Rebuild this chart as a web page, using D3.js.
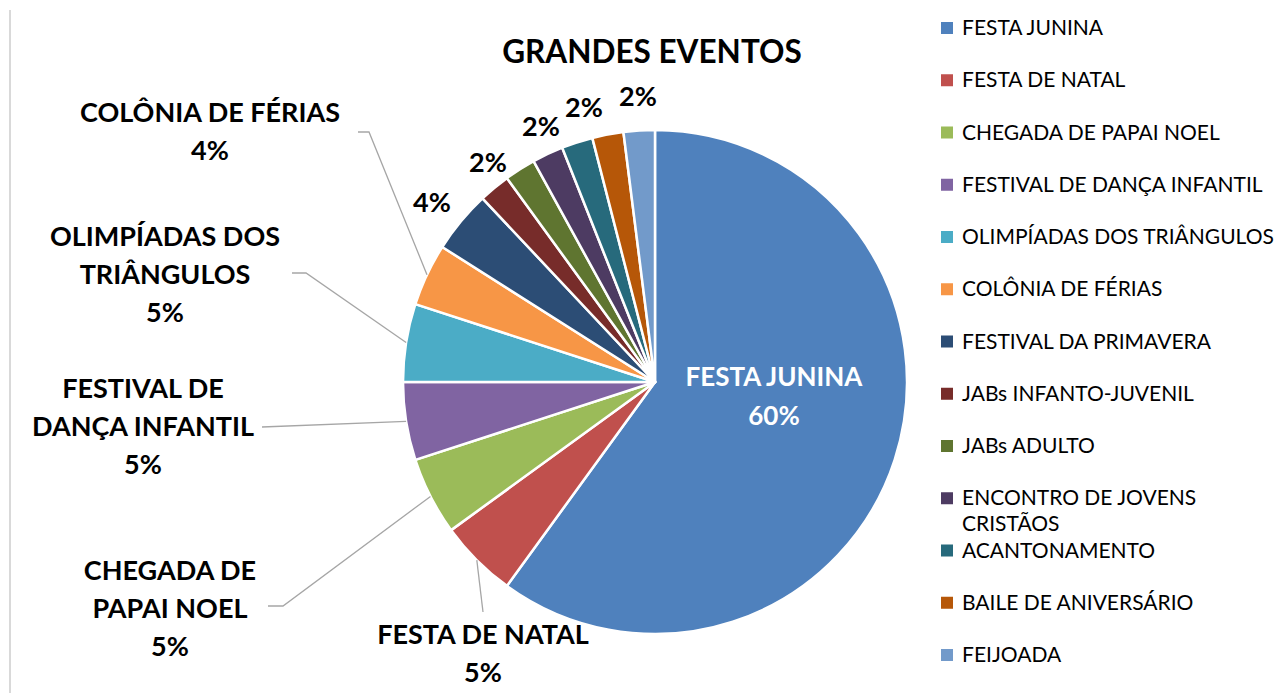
<!DOCTYPE html>
<html lang="pt">
<head>
<meta charset="UTF-8">
<script src="https://d3js.org/d3.v7.min.js"></script>
<style>
  body { margin: 0; background: #fff; }
  svg { display: block; font-family: Lato, "Open Sans", sans-serif; }
</style>
</head>
<body>
<div id="chart"></div>
<script>
// data
const events = ["FESTA JUNINA", "FESTA DE NATAL", "CHEGADA DE PAPAI NOEL", "FESTIVAL DE DANÇA INFANTIL",
  "OLIMPÍADAS DOS TRIÂNGULOS", "COLÔNIA DE FÉRIAS", "FESTIVAL DA PRIMAVERA", "JABs INFANTO-JUVENIL",
  "JABs ADULTO", "ENCONTRO DE JOVENS CRISTÃOS", "ACANTONAMENTO", "BAILE DE ANIVERSÁRIO", "FEIJOADA"];
const percents = [60, 5, 5, 5, 5, 4, 4, 2, 2, 2, 2, 2, 2];
const colors = ["#4f81bd", "#c0504d", "#9bbb59", "#8064a2", "#4bacc6", "#f79646", "#2c4d75",
  "#772c2a", "#5f7530", "#4d3b62", "#276a7c", "#b65708", "#729aca"];
const legendLines = [["FESTA JUNINA"], ["FESTA DE NATAL"], ["CHEGADA DE PAPAI NOEL"], ["FESTIVAL DE DANÇA INFANTIL"],
  ["OLIMPÍADAS DOS TRIÂNGULOS"], ["COLÔNIA DE FÉRIAS"], ["FESTIVAL DA PRIMAVERA"], ["JABs INFANTO-JUVENIL"],
  ["JABs ADULTO"], ["ENCONTRO DE JOVENS", "CRISTÃOS"], ["ACANTONAMENTO"], ["BAILE DE ANIVERSÁRIO"], ["FEIJOADA"]];

// label layout (outside labels with leader lines)
const outLabels = [
  { i: 5, x: 210, y: 122, lines: ["COLÔNIA DE FÉRIAS"], leader: [[358, 132], [369, 132]] },
  { i: 4, x: 165, y: 246, lines: ["OLIMPÍADAS DOS", "TRIÂNGULOS"], leader: [[292, 273], [306, 273]] },
  { i: 3, x: 143, y: 398, lines: ["FESTIVAL DE", "DANÇA INFANTIL"], leader: [[262, 427]] },
  { i: 2, x: 170, y: 580, lines: ["CHEGADA DE", "PAPAI NOEL"], leader: [[268, 606], [283, 606]] },
  { i: 1, x: 483, y: 644, lines: ["FESTA DE NATAL"], leader: [[483, 612]] }
];
const smallLabels = [
  { i: 6, x: 432, y: 212 }, { i: 7, x: 488, y: 172 }, { i: 8, x: 541, y: 136 },
  { i: 10, x: 584, y: 117 }, { i: 12, x: 638, y: 106 }
];

const W = 1284, H = 693;
const cx = 655, cy = 382, R = 252;
const lineH = 38;

const svg = d3.select("#chart").append("svg").attr("width", W).attr("height", H);

// left frame edge
svg.append("line").attr("x1", 10).attr("x2", 10).attr("y1", 10).attr("y2", H)
  .attr("stroke", "#d9d9d9").attr("stroke-width", 2);

// title
svg.append("text").attr("x", 652).attr("y", 63).attr("text-anchor", "middle")
  .attr("font-size", 31.5).attr("font-weight", "bold").attr("fill", "#000")
  .text("GRANDES EVENTOS");

const pie = d3.pie().sort(null).value(d => d)(percents);
const arc = d3.arc().innerRadius(0).outerRadius(R);

const g = svg.append("g").attr("transform", `translate(${cx},${cy})`);
g.selectAll("path").data(pie).join("path")
  .attr("d", arc)
  .attr("fill", (d, i) => colors[i])
  .attr("stroke", "#fff").attr("stroke-width", 2.5).attr("stroke-linejoin", "round");

// point on the rim at slice mid-angle
function rim(d, r) {
  const a = (d.startAngle + d.endAngle) / 2;
  return [cx + r * Math.sin(a), cy - r * Math.cos(a)];
}

// leader lines
const line = d3.line();
outLabels.forEach(l => {
  const pts = l.leader.concat([rim(pie[l.i], R)]);
  svg.append("path").attr("d", line(pts)).attr("fill", "none")
    .attr("stroke", "#a6a6a6").attr("stroke-width", 1.3);
});

// outside labels
outLabels.forEach(l => {
  const t = svg.append("text").attr("text-anchor", "middle")
    .attr("font-size", 27).attr("font-weight", "bold").attr("fill", "#000");
  l.lines.concat([percents[l.i] + "%"]).forEach((s, k) => {
    t.append("tspan").attr("x", l.x).attr("y", l.y + k * lineH).text(s);
  });
});

smallLabels.forEach(l => {
  svg.append("text").attr("x", l.x).attr("y", l.y).attr("text-anchor", "middle")
    .attr("font-size", 27).attr("font-weight", "bold").attr("fill", "#000")
    .text(percents[l.i] + "%");
});

// inside label for the big slice
const inside = svg.append("text").attr("text-anchor", "middle")
  .attr("font-size", 26).attr("font-weight", "bold").attr("fill", "#fff");
inside.append("tspan").attr("x", 774).attr("y", 386).text(events[0]);
inside.append("tspan").attr("x", 774).attr("y", 425).text(percents[0] + "%");

// legend
const legend = svg.append("g");
const ly = d3.scalePoint().domain(d3.range(events.length)).range([28, 655]);
events.forEach((e, i) => {
  const y = ly(i);
  legend.append("rect").attr("x", 941).attr("y", y - 6).attr("width", 12).attr("height", 12)
    .attr("fill", colors[i]);
  const t = legend.append("text").attr("font-size", 21).attr("fill", "#000");
  legendLines[i].forEach((s, k) => {
    t.append("tspan").attr("x", 962).attr("y", y + 7 + k * 26).text(s);
  });
});
</script>
</body>
</html>
